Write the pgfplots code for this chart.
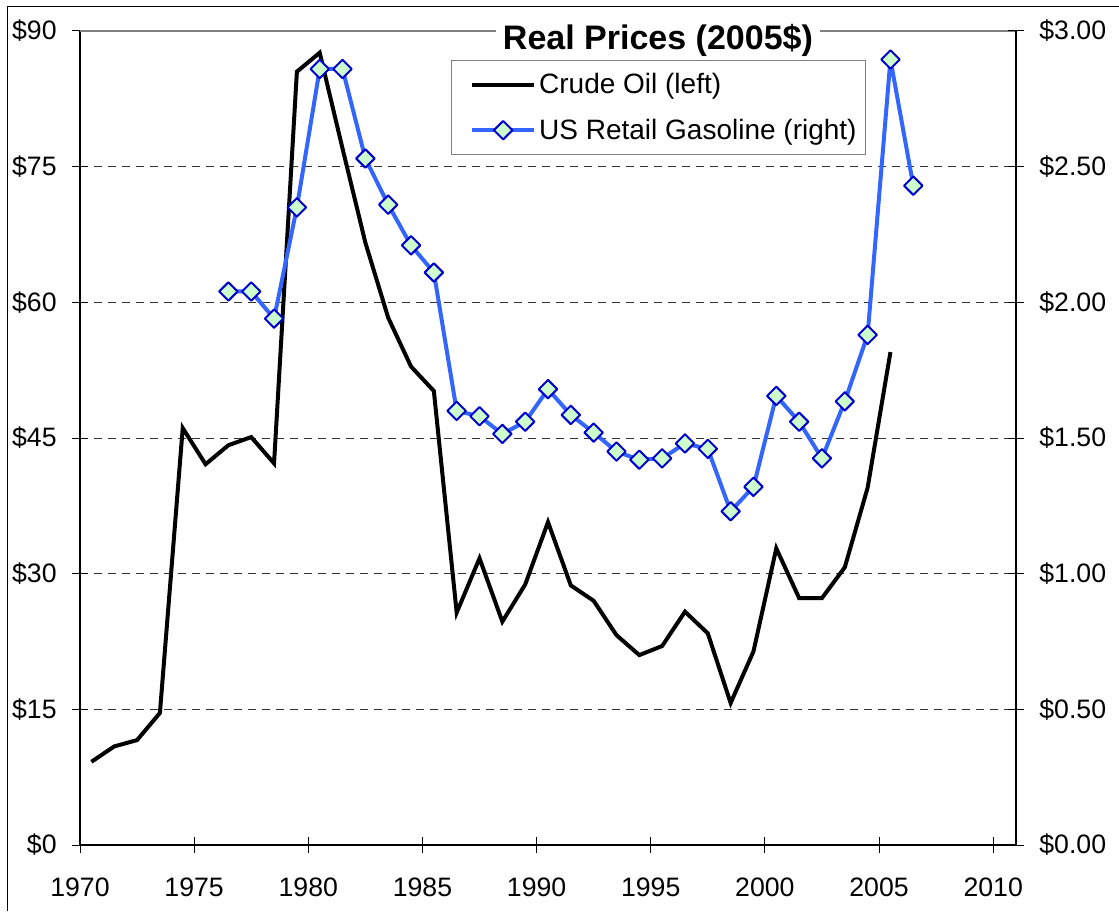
\documentclass[border=0pt]{standalone}
\usepackage{pgfplots}
\usepackage{pgfplotstable}
\pgfplotsset{compat=1.18}
\usepackage{fontspec}
\setmainfont{Liberation Sans}
\definecolor{gasblue}{RGB}{51,102,255}
\definecolor{markblue}{RGB}{0,0,204}
\definecolor{markfill}{RGB}{204,255,204}

\pgfplotstableread{
year price
1970.5 9.2
1971.5 10.9
1972.5 11.6
1973.5 14.6
1974.5 46.1
1975.5 42.1
1976.5 44.2
1977.5 45.1
1978.5 42.2
1979.5 85.5
1980.5 87.6
1981.5 77.0
1982.5 66.6
1983.5 58.3
1984.5 52.9
1985.5 50.2
1986.5 25.7
1987.5 31.7
1988.5 24.7
1989.5 28.8
1990.5 35.7
1991.5 28.7
1992.5 27.0
1993.5 23.2
1994.5 21.0
1995.5 22.0
1996.5 25.8
1997.5 23.4
1998.5 15.7
1999.5 21.4
2000.5 32.8
2001.5 27.3
2002.5 27.3
2003.5 30.7
2004.5 39.5
2005.5 54.5
}\crude

\pgfplotstableread{
year price
1976.5 2.04
1977.5 2.04
1978.5 1.94
1979.5 2.35
1980.5 2.86
1981.5 2.86
1982.5 2.53
1983.5 2.36
1984.5 2.21
1985.5 2.11
1986.5 1.60
1987.5 1.58
1988.5 1.515
1989.5 1.56
1990.5 1.68
1991.5 1.585
1992.5 1.52
1993.5 1.45
1994.5 1.42
1995.5 1.425
1996.5 1.48
1997.5 1.46
1998.5 1.23
1999.5 1.32
2000.5 1.655
2001.5 1.56
2002.5 1.425
2003.5 1.635
2004.5 1.88
2005.5 2.895
2006.5 2.43
}\gas

\pgfplotsset{
  common/.style={
    at={(60pt,49.5pt)}, anchor=south west,
    scale only axis, width=702pt, height=610.5pt,
    xmin=1970, xmax=2011,
    tick align=center, major tick length=12pt,
    tick style={black, line width=0.75pt},
    x axis line style={-}, y axis line style={-},
    axis line style={black, line width=1pt},
    ticklabel style={font=\fontsize{20}{24}\selectfont},
  }
}

\begin{document}
\begin{tikzpicture}
\useasboundingbox (0,0) rectangle (839.25pt,683.25pt);
\draw[line width=0.75pt] (5.25pt,0) -- (5.25pt,678pt) -- (839.25pt,678pt);
\begin{axis}[common,
  ymin=0, ymax=90,
  axis x line*=bottom, axis y line*=left,
  xtick={1970,1975,...,2010},
  xticklabels={1970,1975,1980,1985,1990,1995,2000,2005,2010},
  ytick={0,15,30,45,60,75,90},
  yticklabels={\$0,\$15,\$30,\$45,\$60,\$75,\$90},
  ymajorgrids,
  grid style={black!80, dash pattern=on 6pt off 4.5pt, line width=0.6pt},
  xticklabel style={yshift=-15pt},
  yticklabel style={xshift=-8pt},
]
\draw[gray, line width=1.5pt] (rel axis cs:0,1) -- (rel axis cs:1,1);
\addplot[black, line width=3pt, no marks, line join=miter] table[x=year, y=price] {\crude};
\end{axis}
\begin{axis}[common,
  ymin=0, ymax=3,
  clip mode=individual,
  axis x line=none, axis y line*=right,
  ytick={0,0.5,1,1.5,2,2.5,3},
  yticklabels={\$0.00,\$0.50,\$1.00,\$1.50,\$2.00,\$2.50,\$3.00},
  yticklabel style={xshift=8pt},
  legend cell align=left,
  legend image code/.code={\path (-9pt,0pt); \draw[mark repeat=2,mark phase=2,#1] plot coordinates {(0pt,0pt) (23.5pt,0pt) (47pt,0pt)};},
  legend style={at={(0.396,0.964)}, anchor=north west, draw=gray, fill=white,
    line width=0.75pt,
    font=\fontsize{21}{25}\selectfont, row sep=13.5pt, inner xsep=5pt, inner ysep=7.5pt},
]
\addlegendimage{black, line width=3pt}
\addlegendentry{Crude Oil (left)}
\addplot[gasblue, line width=3pt, line join=round, mark=square*, mark size=4.9pt,
  mark options={rotate=45, fill=markfill, draw=markblue, line width=1.5pt}]
  table[x=year, y=price] {\gas};
\addlegendentry{US Retail Gasoline (right)}
\node[fill=white, font=\bfseries\fontsize{25.5}{30}\selectfont, inner xsep=5pt, inner ysep=1pt]
  at (rel axis cs:0.6175,0.988) {Real Prices (2005\$)};
\end{axis}
\end{tikzpicture}
\end{document}
